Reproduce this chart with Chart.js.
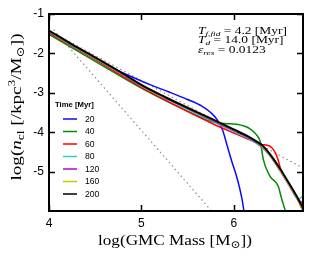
<!DOCTYPE html>
<html>
<head>
<meta charset="utf-8">
<script src="https://cdn.jsdelivr.net/npm/chart.js@4"></script>
<style>
  html, body { margin: 0; padding: 0; background: #fff; }
</style>
</head>
<body>
<canvas id="myChart" width="312" height="258"></canvas>
<script>
// 시간별 질량함수 (log M vs log n_cl)
const timeLabels = ["20", "40", "60", "80", "120", "160", "200"];
const lineColors = ["rgb(10,10,255)", "rgb(0,140,0)", "rgb(255,0,0)", "rgb(40,205,205)", "rgb(190,0,210)", "rgb(200,200,0)", "rgb(0,0,0)"];

const mass20 = [4.0, 4.25, 4.45, 4.7, 4.9, 5.1, 5.3, 5.5, 5.65, 5.75, 5.82, 5.88, 5.93, 5.98, 6.03, 6.09, 6.11];
const n20 = [-1.47, -1.8, -2.07, -2.38, -2.6, -2.8, -2.98, -3.17, -3.33, -3.5, -3.68, -3.95, -4.35, -4.75, -5.11, -5.7, -6.0];

const mass40 = [4.0, 4.5, 5.0, 5.5, 5.7, 5.8, 5.9, 6.03, 6.12, 6.18, 6.24, 6.29, 6.32, 6.39, 6.48, 6.52, 6.56];
const n40 = [-1.52, -2.2, -2.88, -3.47, -3.68, -3.75, -3.78, -3.8, -3.85, -3.92, -4.05, -4.26, -4.69, -5.11, -5.36, -5.7, -6.0];

const mass60 = [4.0, 4.5, 5.0, 5.5, 5.75, 6.0, 6.2, 6.3, 6.36, 6.41, 6.45, 6.48, 6.51, 6.6, 6.7, 6.74];
const n60 = [-1.48, -2.16, -2.86, -3.47, -3.76, -4.02, -4.22, -4.31, -4.33, -4.39, -4.52, -4.7, -4.95, -5.33, -5.75, -5.95];

// 80 ~ 200 Myr 은 같은 질량 격자 사용
const massLate = [4.0, 4.25, 4.5, 4.75, 5.0, 5.25, 5.5, 5.75, 6.0, 6.15, 6.25, 6.32, 6.4, 6.5, 6.6, 6.7, 6.75];
const n80 = [-1.45, -1.8, -2.13, -2.47, -2.83, -3.13, -3.42, -3.7, -3.98, -4.15, -4.29, -4.41, -4.62, -4.97, -5.34, -5.7, -5.62];
const n120 = [-1.44, -1.79, -2.12, -2.46, -2.82, -3.12, -3.4, -3.68, -3.96, -4.13, -4.27, -4.4, -4.62, -4.97, -5.35, -5.72, -5.8];
const n160 = [-1.43, -1.78, -2.11, -2.45, -2.81, -3.11, -3.39, -3.66, -3.94, -4.11, -4.25, -4.39, -4.61, -4.96, -5.34, -5.74, -5.98];
const n200 = [-1.42, -1.77, -2.1, -2.44, -2.8, -3.1, -3.38, -3.65, -3.93, -4.1, -4.24, -4.36, -4.58, -4.92, -5.3, -5.7, -5.93];

// 회색 점선 (기준 기울기)
const guideSteepMass = [4.05, 5.76];
const guideSteep = [-1.4, -6.0];
const guideShallowMass = [4.0, 6.75];
const guideShallow = [-1.42, -4.91];

const xTicks = [4, 5, 6];
const yTicks = [-1, -2, -3, -4, -5];

const seriesMass = [mass20, mass40, mass60, massLate, massLate, massLate, massLate];
const seriesVals = [n20, n40, n60, n80, n120, n160, n200];

function toPoints(xs, ys) {
  return xs.map(function (x, i) { return { x: x, y: ys[i] }; });
}

const datasets = [];
for (let i = 0; i < timeLabels.length; i++) {
  datasets.push({
    label: timeLabels[i],
    data: toPoints(seriesMass[i], seriesVals[i]),
    borderColor: lineColors[i],
    borderWidth: i === 6 ? 2 : 1.5,
    pointRadius: 0,
    showLine: true,
    fill: false,
    cubicInterpolationMode: "monotone",
    order: i === 6 ? 0 : 7 - i,
  });
}
datasets.push({
  label: "guide1",
  data: toPoints(guideSteepMass, guideSteep),
  borderColor: "rgb(140,140,140)",
  borderWidth: 1.2,
  borderDash: [1.5, 3],
  pointRadius: 0,
  showLine: true,
  order: 20,
});
datasets.push({
  label: "guide2",
  data: toPoints(guideShallowMass, guideShallow),
  borderColor: "rgb(140,140,140)",
  borderWidth: 1.2,
  borderDash: [1.5, 3],
  pointRadius: 0,
  showLine: true,
  order: 21,
});

const serif = '"Liberation Serif", "DejaVu Serif", serif';
const sans = '"Liberation Sans", Arial, sans-serif';

// 수식 비슷하게 그리는 함수
function richWidth(ctx, parts, size) {
  let w = 0;
  for (const p of parts) {
    const s = p.s ? size * 0.7 : size;
    ctx.font = (p.i ? "italic " : "") + s + "px " + serif;
    w += ctx.measureText(p.t).width;
  }
  return w;
}
function drawRich(ctx, parts, x, y, size, sx) {
  ctx.save();
  ctx.translate(x, y);
  ctx.scale(sx || 1, 1);
  let cx = 0;
  ctx.textBaseline = "alphabetic";
  ctx.textAlign = "left";
  for (const p of parts) {
    const s = p.s ? size * 0.7 : size;
    ctx.font = (p.i ? "italic " : "") + s + "px " + serif;
    let dy = 0;
    if (p.s === "sub") dy = size * 0.22;
    if (p.s === "sup") dy = -size * 0.38;
    ctx.fillText(p.t, cx, dy);
    cx += ctx.measureText(p.t).width;
  }
  ctx.restore();
}

const decorPlugin = {
  id: "decor",
  afterDatasetsDraw(chart) {
    const ctx = chart.ctx;
    const a = chart.chartArea;
    const xs = chart.scales.x;
    const ys = chart.scales.y;
    ctx.save();
    ctx.strokeStyle = "#000";
    ctx.lineWidth = 1.5;
    ctx.beginPath();
    for (const t of xTicks) {
      const px = Math.round(xs.getPixelForValue(t)) + 0.5;
      ctx.moveTo(px, a.bottom);
      ctx.lineTo(px, a.bottom - 6);
      ctx.moveTo(px, a.top);
      ctx.lineTo(px, a.top + 6);
    }
    for (const t of yTicks) {
      const py = Math.round(ys.getPixelForValue(t)) + 0.5;
      ctx.moveTo(a.left, py);
      ctx.lineTo(a.left + 6, py);
      ctx.moveTo(a.right, py);
      ctx.lineTo(a.right - 6, py);
    }
    ctx.stroke();
    ctx.lineWidth = 2;
    ctx.strokeRect(a.left, a.top, a.right - a.left, a.bottom - a.top);
    ctx.restore();
  },
  afterDraw(chart) {
    const ctx = chart.ctx;
    ctx.save();
    ctx.fillStyle = "#000";

    // 범례
    ctx.font = "bold 7.7px " + sans;
    ctx.textBaseline = "middle";
    ctx.textAlign = "left";
    ctx.fillText("Time [Myr]", 55, 105);
    ctx.font = "8.6px " + sans;
    for (let i = 0; i < timeLabels.length; i++) {
      const y = 119 + i * 12.5;
      ctx.strokeStyle = lineColors[i];
      ctx.lineWidth = 1.5;
      ctx.beginPath();
      ctx.moveTo(63, y);
      ctx.lineTo(77, y);
      ctx.stroke();
      ctx.fillText(timeLabels[i], 85, y + 0.5);
    }

    // 파라미터 텍스트 (원본은 가로로 늘어난 글꼴)
    const fs = 9.5;
    const line1 = [{ t: "T", i: true }, { t: "f,fid", i: true, s: "sub" }, { t: " = 4.2 [Myr]" }];
    const line2 = [{ t: "T", i: true }, { t: "d", i: true, s: "sub" }, { t: " = 14.0 [Myr]" }];
    const line3 = [{ t: "\u03b5", i: true }, { t: "res", i: true, s: "sub" }, { t: " = 0.0123" }];
    const sx = 89 / richWidth(ctx, line1, fs);
    drawRich(ctx, line1, 198, 34, fs, sx);
    drawRich(ctx, line2, 198, 43.3, fs, sx);
    drawRich(ctx, line3, 198, 52.6, fs, sx);

    // 축 제목
    const ts = 15;
    const xt = [{ t: "log(GMC Mass [M" }, { t: "\u2299", s: "sub" }, { t: "])" }];
    const xsx = 154 / richWidth(ctx, xt, ts);
    drawRich(ctx, xt, 175 - 77, 245, ts, xsx);

    const yt = [{ t: "log(" }, { t: "n", i: true }, { t: "cl", s: "sub" }, { t: " [/kpc" }, { t: "3", s: "sup" }, { t: "/M" }, { t: "\u2299", s: "sub" }, { t: "])" }];
    const ysx = 147 / richWidth(ctx, yt, ts);
    ctx.translate(21, 107);
    ctx.rotate(-Math.PI / 2);
    drawRich(ctx, yt, -73.5, 0, ts, ysx);
    ctx.restore();
  },
};

var ctx = document.getElementById("myChart").getContext("2d");
var myChart = new Chart(ctx, {
  type: "scatter",
  data: { datasets: datasets },
  options: {
    responsive: false,
    animation: false,
    devicePixelRatio: 1,
    layout: { padding: { left: 0, right: 9, top: 14, bottom: 0 } },
    plugins: { legend: { display: false }, tooltip: { enabled: false } },
    scales: {
      x: {
        type: "linear",
        min: 4,
        max: 6.75,
        afterFit: function (scale) { scale.height = 47; },
        afterBuildTicks: function (scale) { scale.ticks = xTicks.map(function (v) { return { value: v }; }); },
        grid: { display: false, drawTicks: false },
        border: { display: false },
        ticks: { color: "#000", font: { family: sans, size: 12 }, padding: 5, maxRotation: 0 },
      },
      y: {
        type: "linear",
        min: -6,
        max: -1,
        afterFit: function (scale) { scale.width = 49; },
        afterBuildTicks: function (scale) { scale.ticks = yTicks.map(function (v) { return { value: v }; }); },
        grid: { display: false, drawTicks: false },
        border: { display: false },
        ticks: { color: "#000", font: { family: sans, size: 12 }, padding: 5 },
      },
    },
  },
  plugins: [decorPlugin],
});
</script>
</body>
</html>
